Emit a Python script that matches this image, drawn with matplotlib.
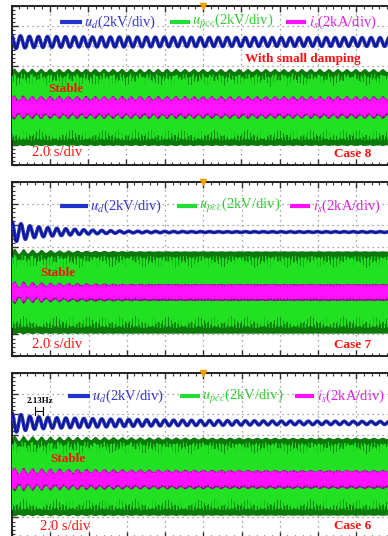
import numpy as np
import matplotlib
matplotlib.use("Agg")
import matplotlib.pyplot as plt
from matplotlib.lines import Line2D
from matplotlib.ticker import MultipleLocator

plt.rcParams["font.family"] = ["Liberation Serif", "DejaVu Serif"]
plt.rcParams["mathtext.fontset"] = "stix"

W, H = 388, 536

# ---------------- data (y in screen divisions, 0 = bottom, 8 = top) ----
T_END = 20.0          # 2.0 s/div x 10 div
F_OSC = 2.13          # oscillation frequency of u_d (Hz)
F_GRID = 50.0         # grid frequency of u_pcc and i_s (Hz)

cases = ["Case 8", "Case 7", "Case 6"]
env_t = [0, 1, 2, 4, 6, 8, 10, 14, 20]                       # s

ud_level = [6.19, 5.70, 5.58]                                  # div
ud_amp = [
    [0.34, 0.28, 0.27, 0.25, 0.25, 0.24, 0.23, 0.22, 0.22],   # Case 8
    [0.48, 0.27, 0.19, 0.09, 0.04, 0.03, 0.02, 0.02, 0.02],   # Case 7
    [0.48, 0.31, 0.26, 0.21, 0.17, 0.14, 0.12, 0.09, 0.07],   # Case 6
]

upcc_level = [2.89, 2.94, 2.98]
upcc_half = [1.89, 1.89, 1.87]

is_level = [2.92, 2.94, 2.86]
is_half = [0.48, 0.38, 0.42]
is_ripple = [
    [0.13, 0.11, 0.10, 0.10, 0.10, 0.10, 0.09, 0.09, 0.09],
    [0.16, 0.11, 0.07, 0.04, 0.02, 0.01, 0.01, 0.01, 0.01],
    [0.16, 0.13, 0.11, 0.09, 0.07, 0.06, 0.05, 0.04, 0.04],
]

legend_labels = [r"$u_d$(2kV/div)", r"$u_{pcc}$(2kV/div)", r"$i_s$(2kA/div)"]

# ---------------- styling ----------------
C_BLUE = "#2233cc"
C_BLUE_DARK = "#101070"
C_GREEN = "#22e022"
C_GREEN_DARK = "#0b7a0b"
C_MAG = "#ff10ff"
C_MAG_DARK = "#8a0a8a"
C_RED = "#ff1010"

# panel frames in pixels: left, top, right, bottom
frames = [(11.5, 6, 394.5, 165), (12, 182, 394.5, 356), (12, 373, 394.5, 538)]

fig = plt.figure(figsize=(W / 100, H / 100), dpi=100)


def fx(x):
    return x / W


def fy(y):
    return 1 - y / H


def ftext(x, y, s, **kw):
    fig.text(fx(x), fy(y), s, **kw)


def fline(x0, x1, y, color, lw):
    fig.add_artist(Line2D([fx(x0), fx(x1)], [fy(y), fy(y)], color=color, lw=lw,
                          transform=fig.transFigure, solid_capstyle="butt"))


t = np.linspace(0, T_END, 6000)
ts = np.linspace(0, T_END, 1373)

for i, (l, tp, r, b) in enumerate(frames):
    ax = fig.add_axes([fx(l), fy(b), (r - l) / W, (b - tp) / H])
    ax.set_xlim(0, T_END)
    ax.set_ylim(0, 8)
    ax.xaxis.set_major_locator(MultipleLocator(2.0))
    ax.xaxis.set_minor_locator(MultipleLocator(0.4))
    ax.yaxis.set_major_locator(MultipleLocator(1.0))
    ax.yaxis.set_minor_locator(MultipleLocator(0.2))
    ax.tick_params(which="both", direction="in", top=True, right=True,
                   labelbottom=False, labelleft=False, color="#333333")
    ax.tick_params(which="major", length=4, width=1)
    ax.tick_params(which="minor", length=2.5, width=0.8)
    ax.grid(True, which="major", color="#8a8a8a", lw=0.9, linestyle=(0, (1, 3)))
    ax.set_axisbelow(True)
    for s in ax.spines.values():
        s.set_color("#222222")
        s.set_linewidth(1.4)

    # u_pcc band (green)
    phase = np.sin(2 * np.pi * F_OSC * ts)
    ripple = np.interp(ts, env_t, is_ripple[i])
    c_g = upcc_level[i] + 0.3 * ripple * phase
    h_g = upcc_half[i] + 0.5 * ripple * phase
    ax.fill_between(ts, c_g - h_g, c_g + h_g, color=C_GREEN_DARK, lw=0, zorder=2)
    y_g = c_g + (h_g - 0.26) * np.sin(2 * np.pi * F_GRID * ts)
    ax.plot(ts, y_g, color=C_GREEN, lw=0.7, zorder=3)

    # i_s band (magenta)
    c_m = is_level[i]
    h_m = is_half[i] + ripple * phase
    ax.fill_between(ts, c_m - h_m, c_m + h_m, color=C_MAG_DARK, lw=0, zorder=4)
    y_m = c_m + (h_m - 0.05) * np.sin(2 * np.pi * F_GRID * ts)
    ax.plot(ts, y_m, color=C_MAG, lw=0.8, zorder=5)

    # u_d trace (blue)
    a = np.interp(t, env_t, ud_amp[i])
    y_d = ud_level[i] + a * np.cos(2 * np.pi * F_OSC * t)
    ax.plot(t, y_d, color=C_BLUE, lw=2.6, zorder=6, solid_capstyle="butt")
    ax.plot(t, y_d, color=C_BLUE_DARK, lw=0.9, zorder=7)

    # trigger marker
    ax.plot([T_END / 2], [8], marker="v", color="#f0a000", ms=4, clip_on=False, zorder=8)

# ---------------- texts ----------------
fs_leg = 10.5
legend_pos = [
    # (blue line x0, x1, text x), (green ...), (magenta ...), y
    ((60, 82, 84), (170, 190, 192), (286, 306, 309), 22),
    ((60, 88, 90), (177, 197, 199), (290, 310, 313), 206),
    ((68, 90, 92), (180, 200, 202), (295, 314, 317), 396),
]
cols = [(C_BLUE, "#3535d0"), ("#22dd33", "#33cc33"), (C_MAG, "#e020e0")]
for (pb, pg, pm, yy) in legend_pos:
    for (x0, x1, xt), (lc, tc), lab in zip((pb, pg, pm), cols, legend_labels):
        fline(x0, x1, yy, lc, 3.0)
        ftext(xt, yy, lab, color=tc, fontsize=fs_leg, va="center", ha="left")

red_bold = dict(color=C_RED, fontsize=9.5, fontweight="bold", va="center")
ftext(48, 89, "Stable", **red_bold)
ftext(40, 273, "Stable", **red_bold)
ftext(50, 459, "Stable", **red_bold)
ftext(245, 59, "With small damping", **red_bold)

for yy, x in ((153, 32), (345, 32), (526, 40)):
    ftext(x, yy, "2.0 s/div", color=C_RED, fontsize=10.5, va="center")
for yy, case in zip((154, 345, 526), cases):
    ftext(371, yy, case, ha="right", **red_bold)

# 2.13 Hz marker
ftext(27, 401, "2.13Hz", color="black", fontsize=6.5, fontweight="bold", va="center")
fline(35, 43, 411, "black", 0.8)
fig.add_artist(Line2D([fx(35), fx(35)], [fy(407), fy(415)], color="black", lw=0.8,
                      transform=fig.transFigure))
fig.add_artist(Line2D([fx(43), fx(43)], [fy(407), fy(415)], color="black", lw=0.8,
                      transform=fig.transFigure))

fig.savefig("out.png", dpi=100)
